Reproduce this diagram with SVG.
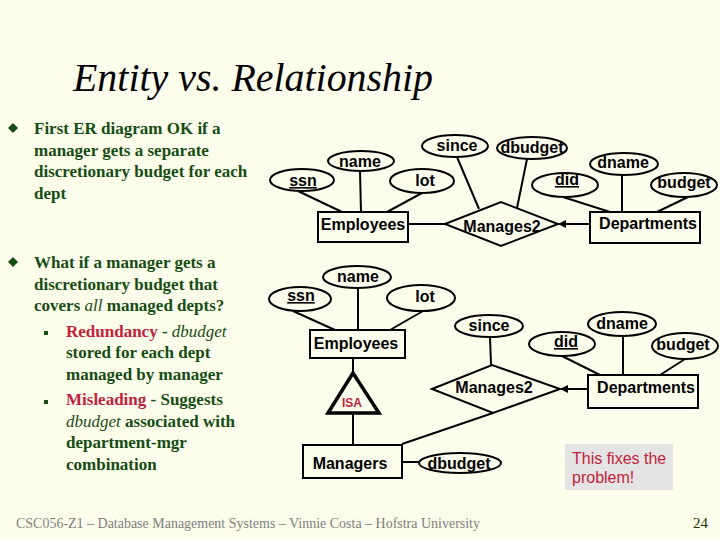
<svg xmlns="http://www.w3.org/2000/svg" width="720" height="540" viewBox="0 0 720 540">
<defs>
<style>
.bg{fill:#fefeec}
.ent{fill:none;stroke:#000;stroke-width:2}
.att{fill:none;stroke:#000;stroke-width:2}
.rel{fill:none;stroke:#000;stroke-width:2}
.isa{fill:none;stroke:#000;stroke-width:3.5;stroke-linejoin:miter}
.ln{stroke:#000;stroke-width:2;fill:none}
.lbl{font-family:"Liberation Sans",Arial,sans-serif;font-size:16px;font-weight:bold;fill:#000;text-anchor:middle}
.key{text-decoration:underline}
.isat{font-family:"Liberation Sans",Arial,sans-serif;font-size:12px;font-weight:bold;fill:#c41e3a;text-anchor:middle}
.body{font-family:"Liberation Serif","Times New Roman",serif;font-size:17px;font-weight:bold;fill:#144d14}
.red{fill:#c41e3a}
.it{font-style:italic;font-weight:normal}
.title{font-family:"Liberation Serif","Times New Roman",serif;font-size:40px;font-style:italic;fill:#000}
.foot{font-family:"Liberation Serif","Times New Roman",serif;font-size:15px;fill:#808080}
.note{font-family:"Liberation Sans",Arial,sans-serif;font-size:16px;fill:#c41e3a}
</style>
<marker id="arr" markerWidth="8" markerHeight="8" refX="7" refY="4" orient="auto" markerUnits="userSpaceOnUse">
<path d="M0,0 L8,4 L0,8 z" fill="#000"/>
</marker>
</defs>
<rect class="bg" x="0" y="0" width="720" height="540"/>

<text class="title" x="73" y="91" textLength="360" lengthAdjust="spacingAndGlyphs">Entity vs. Relationship</text>

<g id="bullets">
<polygon points="13,123 18,128 13,133 8,128" fill="#144d14"/>
<polygon points="13,257 18,262 13,267 8,262" fill="#144d14"/>
<rect x="44" y="331" width="4" height="4" fill="#144d14"/>
<rect x="44" y="400" width="4" height="4" fill="#144d14"/>
<text class="body" x="34" y="134">First ER diagram OK if a</text>
<text class="body" x="34" y="156">manager gets a separate</text>
<text class="body" x="34" y="177">discretionary budget for each</text>
<text class="body" x="34" y="199">dept</text>
<text class="body" x="34" y="268">What if a manager gets a</text>
<text class="body" x="34" y="290">discretionary budget that</text>
<text class="body" x="34" y="311">covers <tspan class="it">all</tspan> managed depts?</text>
<text class="body" x="66" y="337"><tspan class="red">Redundancy</tspan> - <tspan class="it">dbudget</tspan></text>
<text class="body" x="66" y="358">stored for each dept</text>
<text class="body" x="66" y="380">managed by manager</text>
<text class="body" x="66" y="405"><tspan class="red">Misleading</tspan> - Suggests</text>
<text class="body" x="66" y="427"><tspan class="it">dbudget</tspan> associated with</text>
<text class="body" x="66" y="448">department-mgr</text>
<text class="body" x="66" y="470">combination</text>
</g>

<g id="connectors">
<!-- top diagram -->
<line class="ln" x1="298" y1="191" x2="342" y2="212"/>
<line class="ln" x1="360" y1="171" x2="361" y2="212"/>
<line class="ln" x1="422" y1="193" x2="387" y2="212"/>
<line class="ln" x1="457" y1="157" x2="479" y2="209"/>
<line class="ln" x1="527" y1="159" x2="517" y2="208"/>
<line class="ln" x1="408" y1="224" x2="445" y2="224"/>
<line class="ln" x1="590" y1="224" x2="559" y2="224" marker-end="url(#arr)"/>
<line class="ln" x1="563" y1="197" x2="610" y2="212"/>
<line class="ln" x1="622" y1="175" x2="622" y2="212"/>
<line class="ln" x1="688" y1="197" x2="657" y2="212"/>
<!-- bottom diagram -->
<line class="ln" x1="358" y1="288" x2="358" y2="330"/>
<line class="ln" x1="293" y1="311" x2="335" y2="330"/>
<line class="ln" x1="423" y1="311" x2="390" y2="330"/>
<line class="ln" x1="353" y1="358" x2="353" y2="373"/>
<line class="ln" x1="353" y1="414" x2="353" y2="445"/>
<line class="ln" x1="402" y1="444" x2="493" y2="413"/>
<line class="ln" x1="402" y1="462" x2="419" y2="462"/>
<line class="ln" x1="490" y1="337" x2="491" y2="365"/>
<line class="ln" x1="588" y1="389" x2="561" y2="389" marker-end="url(#arr)"/>
<line class="ln" x1="562" y1="356" x2="600" y2="375"/>
<line class="ln" x1="623" y1="336" x2="623" y2="375"/>
<line class="ln" x1="685" y1="359" x2="660" y2="375"/>
</g>

<!-- top diagram nodes -->
<g id="t_ssn"><ellipse class="att" cx="302" cy="180" rx="32" ry="11"/><text class="lbl key" x="303" y="186">ssn</text></g>
<g id="t_name"><ellipse class="att" cx="361" cy="161" rx="33" ry="10"/><text class="lbl" x="360" y="167">name</text></g>
<g id="t_lot"><ellipse class="att" cx="422" cy="181" rx="32" ry="12"/><text class="lbl" x="425" y="186">lot</text></g>
<g id="t_since"><ellipse class="att" cx="455" cy="146" rx="33" ry="11"/><text class="lbl" x="457" y="151">since</text></g>
<g id="t_dbudget"><ellipse class="att" cx="532" cy="148" rx="35" ry="11"/><text class="lbl" x="532" y="153">dbudget</text></g>
<g id="t_employees"><rect class="ent" x="318" y="212" width="90" height="30"/><text class="lbl" x="363" y="230">Employees</text></g>
<g id="t_manages2"><polygon class="rel" points="445,224 501,202 558,224 501,246"/><text class="lbl" x="502" y="232">Manages2</text></g>
<g id="t_did"><ellipse class="att" cx="565" cy="185" rx="33" ry="12"/><text class="lbl key" x="567" y="185">did</text></g>
<g id="t_dname"><ellipse class="att" cx="624" cy="164" rx="34" ry="11"/><text class="lbl" x="623" y="168">dname</text></g>
<g id="t_budget"><ellipse class="att" cx="684" cy="185" rx="33" ry="12"/><text class="lbl" x="684" y="188">budget</text></g>
<g id="t_departments"><rect class="ent" x="590" y="212" width="110" height="31"/><text class="lbl" x="648" y="229">Departments</text></g>

<!-- bottom diagram nodes -->
<g id="b_name"><ellipse class="att" cx="357" cy="277" rx="34" ry="11"/><text class="lbl" x="358" y="282">name</text></g>
<g id="b_ssn"><ellipse class="att" cx="300" cy="299" rx="31" ry="12"/><text class="lbl key" x="301" y="301">ssn</text></g>
<g id="b_lot"><ellipse class="att" cx="421" cy="298" rx="34" ry="13"/><text class="lbl" x="425" y="302">lot</text></g>
<g id="b_employees"><rect class="ent" x="310" y="330" width="95" height="28"/><text class="lbl" x="356" y="349">Employees</text></g>
<g id="b_isa"><polygon class="isa" points="353,373 328,413 379,413"/><text class="isat" x="352" y="407">ISA</text></g>
<g id="b_managers"><rect class="ent" x="303" y="445" width="99" height="33"/><text class="lbl" x="350" y="469">Managers</text></g>
<g id="b_dbudget"><ellipse class="att" cx="460" cy="463" rx="41" ry="10"/><text class="lbl" x="459" y="469">dbudget</text></g>
<g id="b_since"><ellipse class="att" cx="489" cy="326" rx="34" ry="11"/><text class="lbl" x="489" y="331">since</text></g>
<g id="b_manages2"><polygon class="rel" points="432,389 492,365 560,389 493,413"/><text class="lbl" x="494" y="393">Manages2</text></g>
<g id="b_did"><ellipse class="att" cx="562" cy="344" rx="33" ry="12"/><text class="lbl key" x="566" y="347">did</text></g>
<g id="b_dname"><ellipse class="att" cx="622" cy="324" rx="34" ry="12"/><text class="lbl" x="622" y="329">dname</text></g>
<g id="b_budget"><ellipse class="att" cx="685" cy="346" rx="33" ry="13"/><text class="lbl" x="683" y="350">budget</text></g>
<g id="b_departments"><rect class="ent" x="588" y="375" width="110" height="33"/><text class="lbl" x="646" y="393">Departments</text></g>

<g id="note">
<rect x="565" y="444" width="108" height="46" fill="#e4e4e4"/>
<text class="note" x="572" y="464">This fixes the</text>
<text class="note" x="572" y="483">problem!</text>
</g>

<text class="foot" x="16" y="528" textLength="464" lengthAdjust="spacingAndGlyphs">CSC056-Z1 – Database Management Systems – Vinnie Costa – Hofstra University</text>
<text class="foot" x="693" y="528" style="fill:#1a3300">24</text>
</svg>
